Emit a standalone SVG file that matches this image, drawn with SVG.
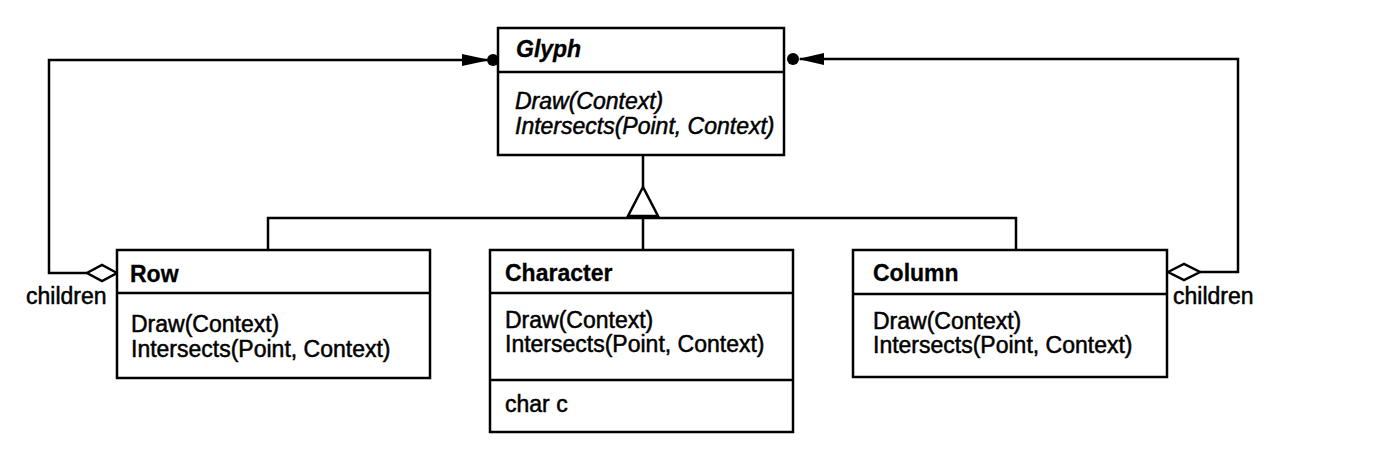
<svg xmlns="http://www.w3.org/2000/svg" width="1398" height="454" viewBox="0 0 1398 454">
<style>
.box{fill:#fff;stroke:#000;stroke-width:2.5}
.ln{fill:none;stroke:#000;stroke-width:2.5}
.t{font-family:"Liberation Sans",Arial,sans-serif;font-size:23px;fill:#000;stroke:#000;stroke-width:0.5}
.b{font-weight:bold;stroke-width:0.3}
.i{font-style:italic}
</style>
<rect width="1398" height="454" fill="#fff"/>
<g id="connectors">
<polyline class="ln" points="487,60 49,60 49,273 87,273"/>
<polygon points="462,54 490,60 462,66" fill="#000"/>
<circle cx="493" cy="60" r="6" fill="#000"/>
<polyline class="ln" points="800,59 1238,59 1238,272 1200,272"/>
<polygon points="824,53 798,59 824,65" fill="#000"/>
<circle cx="793" cy="59" r="6" fill="#000"/>
<polygon class="ln" points="117,273 102,265 87,273 102,281" style="fill:#fff"/>
<polygon class="ln" points="1168,272 1184,264 1200,272 1184,280" style="fill:#fff"/>
<line class="ln" x1="643" y1="155" x2="643" y2="187"/>
<polygon class="ln" points="643,187 628,216 658,216" style="fill:#fff"/>
<polyline class="ln" points="268,250 268,218 1016,218 1016,250"/>
<line class="ln" x1="643" y1="216" x2="643" y2="250"/>
</g>
<g id="glyph">
<rect class="box" x="498" y="28" width="286" height="127"/>
<line class="ln" x1="498" y1="72" x2="784" y2="72"/>
<text class="t b i" x="516" y="57">Glyph</text>
<text class="t i" x="515" y="109">Draw(Context)</text>
<text class="t i" x="515" y="134">Intersects(Point, Context)</text>
</g>
<g id="row">
<rect class="box" x="117" y="250" width="313" height="128"/>
<line class="ln" x1="117" y1="293" x2="430" y2="293"/>
<text class="t b" x="130" y="282">Row</text>
<text class="t" x="131" y="332">Draw(Context)</text>
<text class="t" x="131" y="357">Intersects(Point, Context)</text>
<text class="t" x="26" y="304">children</text>
</g>
<g id="character">
<rect class="box" x="490" y="250" width="303" height="182"/>
<line class="ln" x1="490" y1="293" x2="793" y2="293"/>
<line class="ln" x1="490" y1="380" x2="793" y2="380"/>
<text class="t b" x="505" y="281">Character</text>
<text class="t" x="505" y="328">Draw(Context)</text>
<text class="t" x="505" y="352">Intersects(Point, Context)</text>
<text class="t" x="505" y="412">char c</text>
</g>
<g id="column">
<rect class="box" x="853" y="250" width="314" height="127"/>
<line class="ln" x1="853" y1="294" x2="1167" y2="294"/>
<text class="t b" x="873" y="281">Column</text>
<text class="t" x="873" y="329">Draw(Context)</text>
<text class="t" x="873" y="353">Intersects(Point, Context)</text>
<text class="t" x="1173" y="304">children</text>
</g>
</svg>
